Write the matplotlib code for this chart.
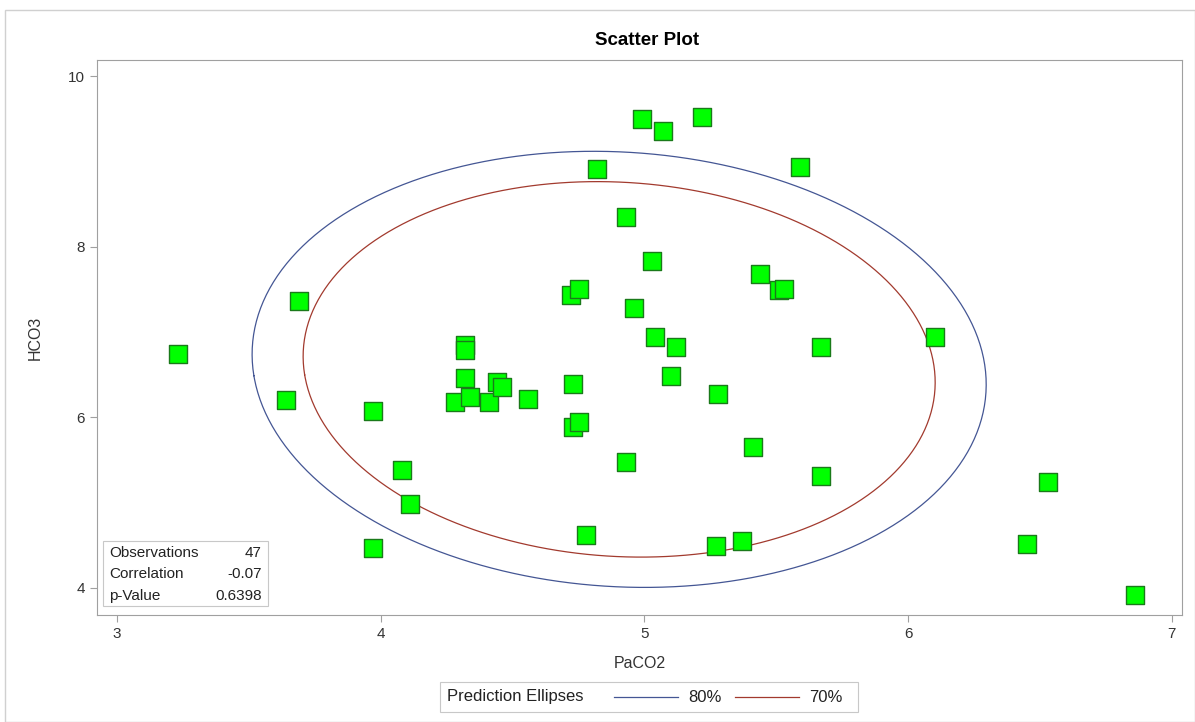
import numpy as np
import matplotlib
matplotlib.use('Agg')
import matplotlib.pyplot as plt
from matplotlib.lines import Line2D
from matplotlib.patches import Rectangle

plt.rcParams['font.family'] = ['Liberation Sans', 'DejaVu Sans']

# PaCO2 / HCO3 pairs (47 observations)
paco2 = [3.23, 3.69, 3.64, 3.97, 4.08, 4.11, 3.97, 4.32, 4.32, 4.32,
         4.28, 4.34, 4.41, 4.44, 4.46, 4.56, 4.73, 4.73, 4.75, 4.93,
         5.03, 5.44, 5.51, 5.53, 4.72, 4.75, 4.96, 5.04, 5.12, 5.67,
         5.10, 5.28, 5.41, 5.67, 4.99, 5.07, 5.22, 4.82, 5.59, 4.93,
         4.78, 5.27, 5.37, 6.10, 6.53, 6.45, 6.86]
hco3 = [6.74, 7.36, 6.20, 6.08, 5.38, 4.98, 4.47, 6.85, 6.79, 6.46,
        6.18, 6.24, 6.18, 6.41, 6.36, 6.21, 6.39, 5.89, 5.95, 5.48,
        7.83, 7.68, 7.49, 7.50, 7.43, 7.50, 7.28, 6.94, 6.82, 6.82,
        6.48, 6.27, 5.65, 5.31, 9.50, 9.36, 9.52, 8.91, 8.94, 8.35,
        4.62, 4.49, 4.55, 6.94, 5.24, 4.52, 3.92]

stat_names = ['Observations', 'Correlation', 'p-Value']
stat_values = ['47', '-0.07', '0.6398']

levels = [0.80, 0.70]
level_labels = ['80%', '70%']
level_colors = ['#445694', '#a23a2e']


def pred_ellipse(x, y, level, npts=400):
    # bivariate normal prediction ellipse (same as SAS PROC CORR)
    x = np.asarray(x)
    y = np.asarray(y)
    n = len(x)
    nu = n - 2
    f = nu / 2 * ((1 - level) ** (-2 / nu) - 1)
    c = 2 * (n - 1) * (n + 1) / (n * (n - 2)) * f
    vals, vecs = np.linalg.eigh(np.cov(x, y))
    t = np.linspace(0, 2 * np.pi, npts)
    circ = np.vstack([np.cos(t), np.sin(t)])
    pts = vecs @ (np.sqrt(vals * c)[:, None] * circ)
    return x.mean() + pts[0], y.mean() + pts[1]


fig = plt.figure(figsize=(11.95, 7.22), dpi=100)
ax = fig.add_axes([0.0812, 0.1482, 0.9078, 0.7687])

# outer light frame like the SAS output
fig.add_artist(Rectangle((5 / 1195, 0), 1 - 5 / 1195, 1 - 10 / 722,
                         transform=fig.transFigure, fill=False,
                         edgecolor='#d0d0d0', linewidth=1))

for lev, col in zip(levels, level_colors):
    ex, ey = pred_ellipse(paco2, hco3, lev)
    ax.plot(ex, ey, color=col, linewidth=0.9, zorder=2)

ax.scatter(paco2, hco3, marker='s', s=175, facecolor='#00ff00',
           edgecolor='#1a7a1a', linewidth=1.0, zorder=3)

ax.set_xlim(2.924, 7.038)
ax.set_ylim(3.683, 10.19)
ax.set_xticks([3, 4, 5, 6, 7])
ax.set_yticks([4, 6, 8, 10])
for s in ax.spines.values():
    s.set_color('#a0a0a0')
ax.tick_params(colors='#a0a0a0', labelcolor='#333333', labelsize=11,
               length=5, direction='out')
ax.set_xlabel('PaCO2', fontsize=11.5, color='#333333', labelpad=11)
ax.set_ylabel('HCO3', fontsize=11.5, color='#333333', labelpad=18)
ax.set_title('Scatter Plot', fontsize=13.5, fontweight='bold', pad=11, x=0.507)

# statistics inset
box = Rectangle((0.0055, 0.0165), 0.152, 0.117, transform=ax.transAxes,
                facecolor='white', edgecolor='#c8c8c8', linewidth=0.8, zorder=4)
ax.add_patch(box)
for i, (nm, val) in enumerate(zip(stat_names, stat_values)):
    yy = 0.112 - i * 0.0385
    ax.text(0.0115, yy, nm, transform=ax.transAxes, fontsize=11,
            color='#222222', va='center', ha='left', zorder=5)
    ax.text(0.152, yy, val, transform=ax.transAxes, fontsize=11,
            color='#222222', va='center', ha='right', zorder=5)

# legend below the plot
W, H = 1195, 722
fig.add_artist(Rectangle((440 / W, 1 - 712 / H), 418 / W, 30 / H,
                         transform=fig.transFigure, fill=False,
                         edgecolor='#c8c8c8', linewidth=0.8))
ly = 1 - 697 / H
fig.text(447 / W, ly, 'Prediction Ellipses', fontsize=12, color='#222222',
         va='center', ha='left')
starts = [614, 735]
for st, lab, col in zip(starts, level_labels, level_colors):
    fig.add_artist(Line2D([st / W, (st + 64) / W], [ly, ly],
                          transform=fig.transFigure, color=col, linewidth=0.9))
    fig.text((st + 74) / W, ly, lab, fontsize=12, color='#222222',
             va='center', ha='left')

fig.savefig('out.png', dpi=100)
